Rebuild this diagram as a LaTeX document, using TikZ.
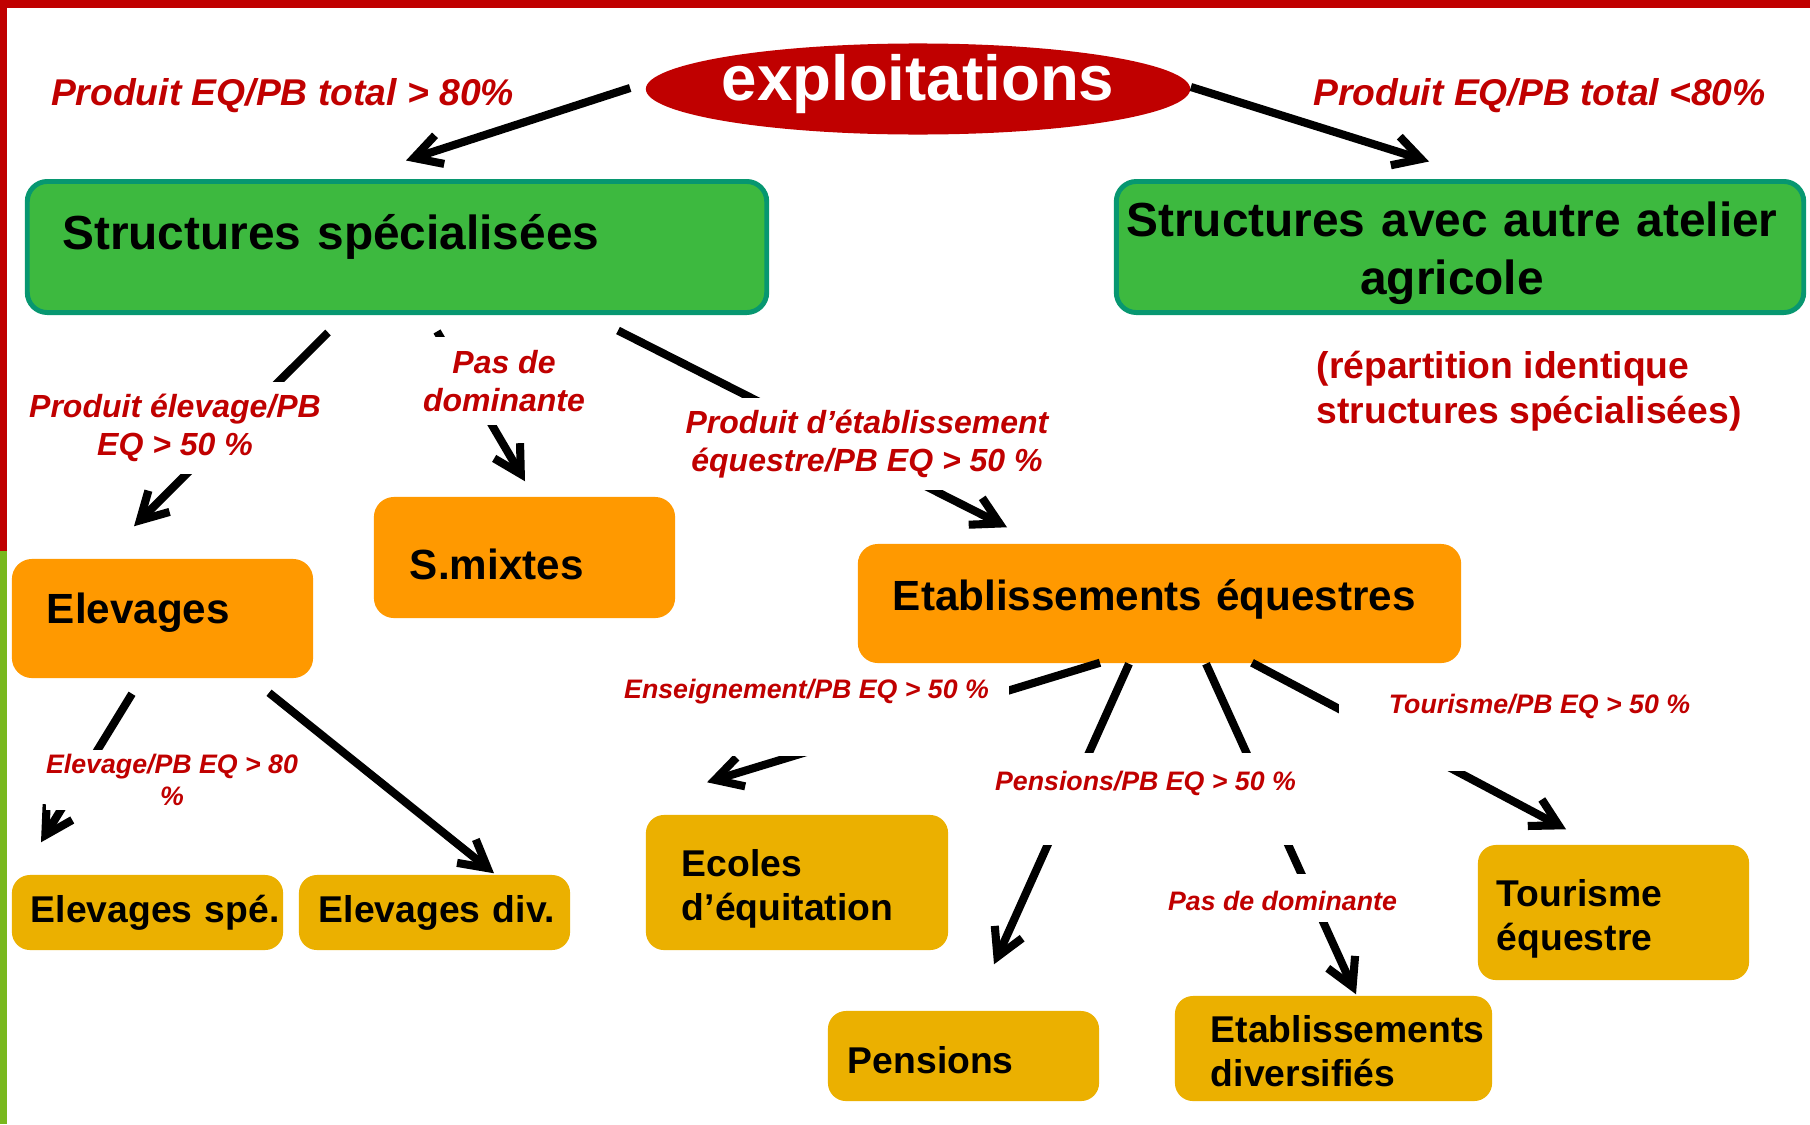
\documentclass[tikz,border=0pt]{standalone}
\usepackage{fontspec}
\setmainfont{Liberation Sans}
\usetikzlibrary{arrows.meta,shapes.geometric}

\definecolor{darkred}{HTML}{C00000}
\definecolor{leafgreen}{HTML}{3DB93F}
\definecolor{tealedge}{HTML}{079770}
\definecolor{barorange}{HTML}{FF9900}
\definecolor{mustard}{HTML}{EBB000}
\definecolor{sidegreen}{HTML}{78B81E}

\tikzset{
  greenbox/.style={draw=tealedge, line width=1.4pt, fill=leafgreen,
    rounded corners=0.2cm, inner xsep=0pt,
    font=\fontsize{13.6}{16.5}\selectfont\bfseries},
  orangebox/.style={fill=barorange, rounded corners=0.2cm, inner xsep=0pt,
    align=left, font=\fontsize{12}{14.5}\selectfont\bfseries},
  goldbox/.style={fill=mustard, rounded corners=0.18cm, inner xsep=0pt,
    align=left, font=\fontsize{10.6}{12.5}\selectfont\bfseries},
  lpad/.style={execute at begin node={\leftskip=#1\relax}},
  rpad/.style={execute at begin node={\leftskip=0pt plus 1fil\rightskip=#1 plus 1fil\parfillskip=0pt\relax}},
  cond/.style={fill=white, text=darkred, inner sep=0pt, align=center},
  bigcond/.style={cond, font=\fontsize{10.6}{12.8}\selectfont\bfseries\itshape},
  midcond/.style={cond, font=\fontsize{9.1}{10.8}\selectfont\bfseries\itshape},
  smallcond/.style={cond, font=\fontsize{7.6}{9.2}\selectfont\bfseries\itshape},
  arr/.style={line width=2.3pt, -{Straight Barb[length=2.7mm, width=3.0mm]}},
}

\begin{document}
\begin{tikzpicture}[x=0.01cm, y=-0.01cm]
  \useasboundingbox (0,0) rectangle (1810,1124);
  \fill[darkred] (0,0) rectangle (1810,8);
  \fill[darkred] (0,0) rectangle (7,551);
  \fill[sidegreen] (0,551) rectangle (7,1124);

  \node[ellipse, fill=darkred, minimum width=5.44cm, minimum height=0.91cm,
        inner sep=0pt, text=white, font=\fontsize{18.1}{20}\selectfont\bfseries,
        text height=0.3cm, text depth=0.08cm] (expl) at (918,89) {\makebox[0pt]{exploitations}};

  \node[greenbox, minimum width=7.39cm, minimum height=1.31cm, text width=7.39cm,
        align=left, lpad=0.35cm, text depth=0.30cm] (spec) at (397,247) {Structures spécialisées};
  \node[greenbox, minimum width=6.87cm, minimum height=1.31cm, text width=6.87cm,
        inner ysep=0pt, align=center, rpad=0.16cm, text height=0.48cm] (autre) at (1460,247) {Structures avec autre atelier\\agricole};

  \node[orangebox, minimum width=3.01cm, minimum height=1.19cm, text width=3.01cm,
        lpad=0.35cm, text depth=0.21cm] (elev) at (162.5,618.5) {Elevages};
  \node[orangebox, minimum width=3.01cm, minimum height=1.21cm, text width=3.01cm,
        lpad=0.36cm, text height=0.45cm] (smix) at (524.5,557.5) {S.mixtes};
  \node[orangebox, minimum width=6.03cm, minimum height=1.19cm, text width=6.03cm,
        lpad=0.35cm, text depth=0.17cm] (etab) at (1159.5,603.5) {Etablissements équestres};

  \node[goldbox, minimum width=2.71cm, minimum height=0.75cm, text width=2.71cm,
        lpad=0.19cm] (spe) at (147.5,912.5) {Elevages spé.};
  \node[goldbox, minimum width=2.71cm, minimum height=0.75cm, text width=2.71cm,
        lpad=0.20cm] (div) at (434.5,912.5) {Elevages div.};
  \node[goldbox, minimum width=3.02cm, minimum height=1.35cm, text width=3.02cm,
        lpad=0.36cm, text height=0.40cm] (ecol) at (797,882.5) {Ecoles\\d’équitation};
  \node[goldbox, minimum width=2.71cm, minimum height=0.90cm, text width=2.71cm,
        lpad=0.20cm, text height=0.35cm] (pens) at (963.5,1056) {Pensions};
  \node[goldbox, minimum width=3.17cm, minimum height=1.05cm, text width=3.17cm,
        lpad=0.36cm, text height=0.33cm] (divers) at (1333.5,1048.5) {Etablissements\\diversifiés};
  \node[goldbox, minimum width=2.71cm, minimum height=1.35cm, text width=2.71cm,
        lpad=0.19cm, text height=0.40cm] (tour) at (1613.5,912.5) {Tourisme\\équestre};

  \draw[arr] ([shift={(-15,-1)}]expl.west) -- ([shift={(9,-18.5)}]spec.north);
  \draw[arr] ([shift={(0,-2)}]expl.east) -- ([shift={(-31,-17.5)}]autre.north);
  \draw[arr] ([shift={(-69,17.5)}]spec.south) -- ([shift={(-28.5,-32)}]elev.north);
  \draw[arr] ([shift={(40,16.5)}]spec.south) -- ([shift={(0.5,-15)}]smix.north);
  \draw[arr] ([shift={(221,15.5)}]spec.south) -- ([shift={(-152.5,-16)}]etab.north);
  \draw[arr] ([shift={(-30.5,15)}]elev.south) -- ([shift={(-106.5,-32)}]spe.north);
  \draw[arr] ([shift={(106.5,14)}]elev.south) -- ([shift={(59.5,-1)}]div.north);
  \draw[arr] ([shift={(-59.5,-1)}]etab.south) -- ([shift={(-90,-32)}]ecol.north);
  \draw[arr] ([shift={(-30.5,0)}]etab.south) -- ([shift={(30.5,-46)}]pens.north);
  \draw[arr] ([shift={(46.5,0)}]etab.south) -- ([shift={(22.5,-1)}]divers.north);
  \draw[arr] ([shift={(92.5,-1)}]etab.south) -- ([shift={(-47.5,-15)}]tour.north);

  \node[bigcond, anchor=base] (tot1) at (282.5,105) {Produit EQ/PB total > 80\%};
  \node[bigcond, anchor=base] (tot2) at (1539.5,105) {Produit EQ/PB total <80\%};
  \node[bigcond, font=\fontsize{10.6}{12.8}\selectfont\bfseries, align=left,
        anchor=north west] (rep) at (1316,350) {(répartition identique\\structures spécialisées)};

  \node[midcond, minimum height=0.88cm] (nodom1) at (504,381) {Pas de\\dominante};
  \node[midcond, minimum height=0.92cm] (elevpb) at (175,428) {Produit élevage/PB\\EQ > 50 \%};
  \node[midcond, minimum height=0.92cm] (etabpb) at (867,444) {Produit d’établissement\\équestre/PB EQ > 50 \%};

  \node[smallcond, anchor=base, text height=0.24cm, text depth=0.58cm,
        minimum width=4.05cm] (enspb) at (806.5,698) {Enseignement/PB EQ > 50 \%};
  \node[smallcond, anchor=base, text height=0.23cm, text depth=0.58cm,
        minimum width=4.01cm] (tourpb) at (1539.5,713) {Tourisme/PB EQ > 50 \%};
  \node[smallcond, anchor=base, text height=0.37cm, text depth=0.55cm] (penspb) at (1145.5,790) {Pensions/PB EQ > 50 \%};
  \node[smallcond, anchor=base, text height=0.36cm, text depth=0.12cm] (nodom2) at (1282.5,910) {Pas de dominante};
  \node[smallcond, minimum height=0.60cm] (elevpb2) at (172,780) {Elevage/PB EQ > 80\\\%};
\end{tikzpicture}
\end{document}
